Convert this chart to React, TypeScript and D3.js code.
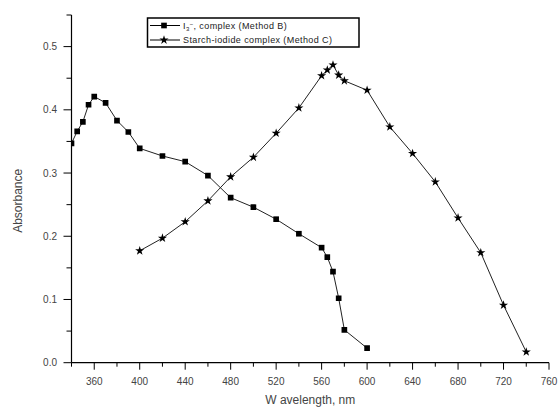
import { useMemo } from "react";
import * as d3 from "d3";

// Method B: I3- complex
const wavelengthB = [340, 345, 350, 355, 360, 370, 380, 390, 400, 420, 440, 460, 480, 500, 520, 540, 560, 565, 570, 575, 580, 600];
const absorbanceB = [0.347, 0.366, 0.381, 0.408, 0.421, 0.411, 0.383, 0.365, 0.339, 0.327, 0.318, 0.296, 0.261, 0.246, 0.227, 0.204, 0.182, 0.167, 0.144, 0.102, 0.052, 0.023];

// Method C: starch-iodide complex
const wavelengthC = [400, 420, 440, 460, 480, 500, 520, 540, 560, 565, 570, 575, 580, 600, 620, 640, 660, 680, 700, 720, 740];
const absorbanceC = [0.177, 0.197, 0.223, 0.256, 0.294, 0.325, 0.363, 0.403, 0.454, 0.463, 0.471, 0.455, 0.446, 0.431, 0.373, 0.331, 0.286, 0.229, 0.174, 0.091, 0.017];

const xMajorTicks = [360, 400, 440, 480, 520, 560, 600, 640, 680, 720, 760];
const xMinorTicks = [340, 380, 420, 460, 500, 540, 580, 620, 660, 700, 740];
const yMajorTicks = [0, 0.1, 0.2, 0.3, 0.4, 0.5];
const yMinorTicks = [0.05, 0.15, 0.25, 0.35, 0.45, 0.55];

const FONT = "'Liberation Sans', Arial, sans-serif";

export default function App() {
  const width = 560;
  const height = 410;
  const left = 71.5;
  const right = 549;
  const top = 15;
  const bottom = 362.7;

  const x = useMemo(() => d3.scaleLinear().domain([340, 760]).range([left, right]), []);
  const y = useMemo(() => d3.scaleLinear().domain([0, 0.55]).range([bottom, top]), []);

  const ptsB = wavelengthB.map((w, i) => [w, absorbanceB[i]] as [number, number]);
  const ptsC = wavelengthC.map((w, i) => [w, absorbanceC[i]] as [number, number]);

  const line = d3
    .line<[number, number]>()
    .x((d) => x(d[0]))
    .y((d) => y(d[1]));

  const square = d3.symbol().type(d3.symbolSquare).size(32)() ?? "";
  const star = d3.symbol().type(d3.symbolStar).size(26)() ?? "";

  return (
    <svg
      width={width}
      height={height}
      style={{ position: "absolute", left: 0, top: 0, background: "#fff" }}
      fontFamily={FONT}
    >
      <defs>
        <clipPath id="plot-clip">
          <rect x={left} y={0} width={right - left + 10} height={bottom} />
        </clipPath>
      </defs>

      {/* series */}
      <g clipPath="url(#plot-clip)">
        <path d={line(ptsB) ?? ""} fill="none" stroke="#222" strokeWidth={1} />
        <path d={line(ptsC) ?? ""} fill="none" stroke="#222" strokeWidth={1} />
        {ptsB.map((d, i) => (
          <path key={`b${i}`} d={square} transform={`translate(${x(d[0])},${y(d[1])})`} fill="#000" />
        ))}
        {ptsC.map((d, i) => (
          <path key={`c${i}`} d={star} transform={`translate(${x(d[0])},${y(d[1])})`} fill="#000" />
        ))}
      </g>

      {/* axes */}
      <line x1={left} x2={left} y1={top} y2={bottom} stroke="#000" strokeWidth={1.2} />
      <line x1={left} x2={right} y1={bottom} y2={bottom} stroke="#000" strokeWidth={1.2} />

      {yMajorTicks.map((t) => (
        <g key={`ym${t}`}>
          <line x1={left - 8} x2={left} y1={y(t)} y2={y(t)} stroke="#000" strokeWidth={1} />
          <text x={57} y={y(t) + 3.5} fontSize={10} fill="#444" textAnchor="end">
            {t.toFixed(1)}
          </text>
        </g>
      ))}
      {yMinorTicks.map((t) => (
        <line key={`yn${t}`} x1={left - 5} x2={left} y1={y(t)} y2={y(t)} stroke="#000" strokeWidth={1} />
      ))}

      {xMajorTicks.map((t) => (
        <g key={`xm${t}`}>
          <line x1={x(t)} x2={x(t)} y1={bottom} y2={bottom + 7} stroke="#000" strokeWidth={1} />
          <text x={x(t)} y={385} fontSize={10} fill="#444" textAnchor="middle">
            {t}
          </text>
        </g>
      ))}
      {xMinorTicks.map((t) => (
        <line key={`xn${t}`} x1={x(t)} x2={x(t)} y1={bottom} y2={bottom + 4} stroke="#000" strokeWidth={1} />
      ))}

      {/* axis titles */}
      <text
        transform={`translate(22, ${(top + bottom) / 2 + 12}) rotate(-90)`}
        fontSize={12}
        fill="#444"
        textAnchor="middle"
      >
        Absorbance
      </text>
      <text x={(left + right) / 2} y={404} fontSize={12} fill="#444" textAnchor="middle">
        W avelength, nm
      </text>

      {/* legend */}
      <g>
        <rect x={147.5} y={18} width={211.5} height={29} fill="#fff" stroke="#000" strokeWidth={1.5} />
        <line x1={150} x2={180} y1={25.5} y2={25.5} stroke="#000" strokeWidth={1} />
        <path d={square} transform="translate(164,25.5)" fill="#000" />
        <text x={183} y={28.5} fontSize={9} letterSpacing={0.4} fill="#222">
          I<tspan fontSize={6} dy={2}>3</tspan>
          <tspan fontSize={6} dy={-5}>−</tspan>
          <tspan dy={3}>, complex (Method  B)</tspan>
        </text>
        <line x1={150} x2={180} y1={40} y2={40} stroke="#000" strokeWidth={1} />
        <path d={star} transform="translate(164,40)" fill="#000" />
        <text x={183} y={43} fontSize={9} letterSpacing={0.4} fill="#222">
          Starch-iodide complex (Method C)
        </text>
      </g>
    </svg>
  );
}
